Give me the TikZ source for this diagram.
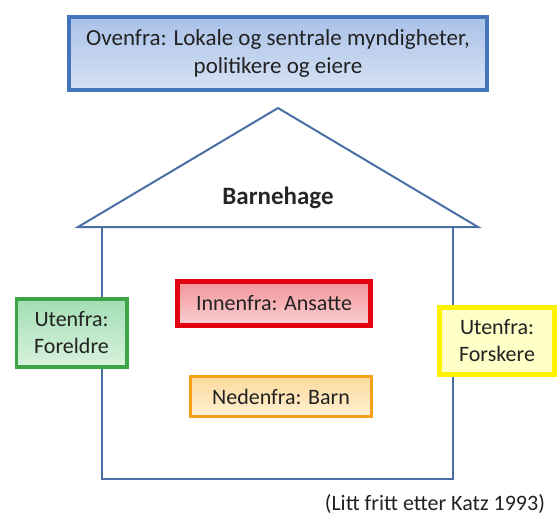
\documentclass[tikz,border=0pt]{standalone}
\usepackage{fontspec}
\setmainfont{Carlito}
\usepackage{tikz}
\usetikzlibrary{positioning}
\definecolor{husblaa}{HTML}{4A6FA5}
\definecolor{ovenkant}{HTML}{4474BA}
\definecolor{oventopp}{HTML}{A9C1E8}
\definecolor{ovenbunn}{HTML}{D6E2F4}
\definecolor{gronnkant}{HTML}{3DA548}
\definecolor{gronntopp}{HTML}{A3DEB4}
\definecolor{gronnbunn}{HTML}{D8F2DE}
\definecolor{rodkant}{HTML}{E3000F}
\definecolor{rodtopp}{HTML}{F2959A}
\definecolor{rodbunn}{HTML}{FBD0D2}
\definecolor{oransjekant}{HTML}{F5A01A}
\definecolor{oransjetopp}{HTML}{FDDA9C}
\definecolor{oransjebunn}{HTML}{FEF0D4}
\definecolor{gulkant}{HTML}{FFF200}
\definecolor{gulfyll}{HTML}{FFFFC8}
\definecolor{tekst}{HTML}{222222}
\tikzset{
  % boksene
  boks/.style={rectangle,align=center,text=tekst,inner sep=0pt,font=\fontsize{11}{13.5}\selectfont},
  ovenfra/.style={boks,draw=ovenkant,line width=2pt,top color=oventopp,bottom color=ovenbunn},
  utenfraf/.style={boks,draw=gronnkant,line width=1.8pt,top color=gronntopp,bottom color=gronnbunn},
  innenfra/.style={boks,draw=rodkant,line width=2.5pt,top color=rodtopp,bottom color=rodbunn},
  nedenfra/.style={boks,draw=oransjekant,line width=1.6pt,top color=oransjetopp,bottom color=oransjebunn},
  utenfrafo/.style={boks,draw=gulkant,line width=2.6pt,fill=gulfyll},
  % huset
  hus/.style={draw=husblaa,line width=1pt,line join=miter},
}

\begin{document}
\begin{tikzpicture}[x=0.5pt,y=-0.5pt]
  \useasboundingbox (0,0) rectangle (558,516);
  % huset
  \coordinate (apex) at (278,108);
  \coordinate (takv) at (78,227);
  \coordinate (takh) at (478,227);
  \draw[hus] (takv) -- (apex) -- (takh) -- cycle;
  \draw[hus] (102,227) -- (102,479) -- (453,479) -- (453,227);
  \node[font=\fontsize{12.5}{15}\selectfont\bfseries,text=black!85] (bhg) at (278,198) {Barnehage};
  % aktørene
  \node[ovenfra,minimum width=209pt,minimum height=36.5pt,font=\fontsize{11.5}{14}\selectfont] (oven) at (278,53)
    {Ovenfra: Lokale og sentrale myndigheter,\\politikere og eiere};
  \node[innenfra,minimum width=96.5pt,minimum height=22pt] (innen) at (274,303.5) {Innenfra: Ansatte};
  \node[nedenfra,minimum width=90.4pt,minimum height=19.9pt] (neden) at (281,396.5) {Nedenfra: Barn};
  \node[utenfraf,minimum width=55.2pt,minimum height=34.2pt] (foreldre) at (71.5,333) {Utenfra:\\Foreldre};
  \node[utenfrafo,minimum width=57.5pt,minimum height=33.5pt] (forskere) at (497,341) {Utenfra:\\Forskere};
  \node[anchor=east,text=tekst,font=\fontsize{11}{13}\selectfont] (kilde) at (552,504) {(Litt fritt etter Katz 1993)};
\end{tikzpicture}
\end{document}
